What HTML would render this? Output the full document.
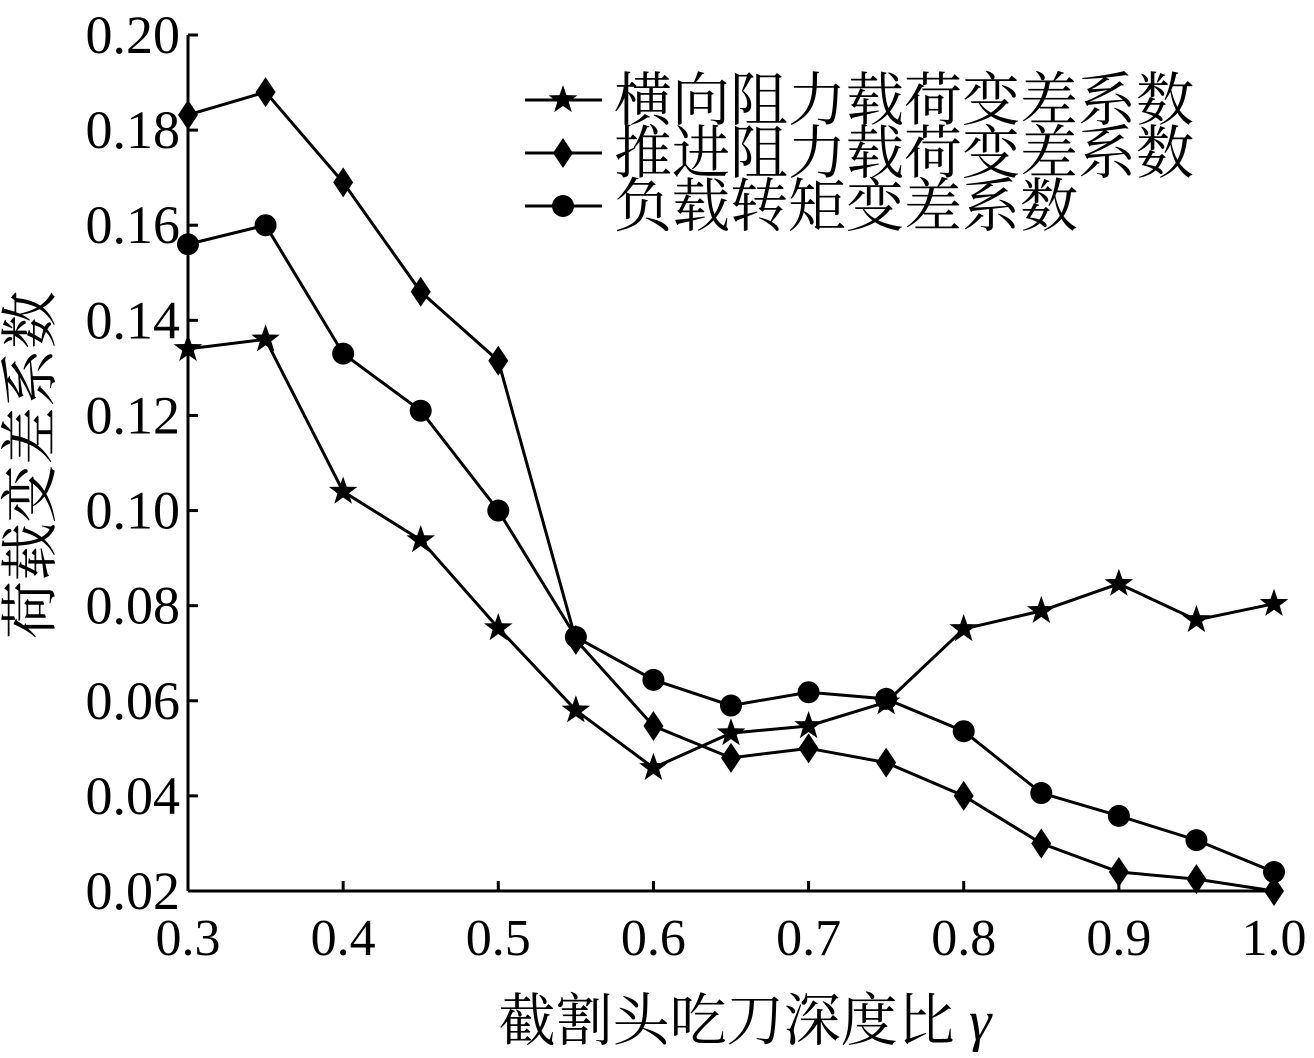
<!DOCTYPE html>
<html><head><meta charset="utf-8"><style>
body{margin:0;background:#fff;}
svg text{font-family:"Liberation Serif","Noto Serif CJK SC",serif;fill:#000;}
</style></head><body>
<svg id="chart" width="1314" height="1053" viewBox="0 0 1314 1053" xmlns="http://www.w3.org/2000/svg">
<g id="axes"></g>
<g id="series"></g>
<g id="legend"></g>
</svg>
<script>
const xValues=[0.3,0.35,0.4,0.45,0.5,0.55,0.6,0.65,0.7,0.75,0.8,0.85,0.9,0.95,1.0];
const starValues=[0.134,0.136,0.104,0.0938,0.0753,0.058,0.0459,0.0532,0.0547,0.0597,0.0751,0.0789,0.0846,0.077,0.0804];
const diamondValues=[0.1832,0.188,0.169,0.146,0.1315,0.0728,0.0547,0.048,0.050,0.047,0.040,0.030,0.024,0.0225,0.020];
const circleValues=[0.156,0.160,0.133,0.121,0.100,0.0734,0.0644,0.059,0.0618,0.0604,0.0536,0.0406,0.0358,0.0307,0.024];
const xTicks=[0.3,0.4,0.5,0.6,0.7,0.8,0.9,1.0];
const yTicks=[0.02,0.04,0.06,0.08,0.10,0.12,0.14,0.16,0.18,0.20];
const legendLabels=["横向阻力载荷变差系数","推进阻力载荷变差系数","负载转矩变差系数"];
const NS="http://www.w3.org/2000/svg";
const X0=188,X1=1274,Y0=891,Y1=35;
const xs=v=>X0+(v-0.3)/0.7*(X1-X0);
const ys=v=>Y0-(v-0.02)/0.18*(Y0-Y1);
function mk(tag,attrs,parent){const e=document.createElementNS(NS,tag);for(const k in attrs)e.setAttribute(k,attrs[k]);parent.appendChild(e);return e;}
const axes=document.getElementById('axes');
let e=mk('line',{x1:X0,y1:Y1,x2:X0,y2:Y0,stroke:'#000','stroke-width':3},axes);


e=mk('line',{x1:X0,y1:Y0,x2:X1+6,y2:Y0,stroke:'#000','stroke-width':3},axes);


yTicks.forEach(v=>{
 mk('line',{x1:X0,y1:ys(v),x2:X0+10,y2:ys(v),stroke:'#000','stroke-width':3},axes);
 const t=mk('text',{x:X0-8,y:ys(v)+18,'text-anchor':'end','font-size':54},axes);
 t.textContent=v.toFixed(2);
 
 
});
xTicks.forEach(v=>{
 mk('line',{x1:xs(v),y1:Y0,x2:xs(v),y2:Y0-10,stroke:'#000','stroke-width':3},axes);
 const t=mk('text',{x:xs(v),y:Y0+64,'text-anchor':'middle','font-size':52},axes);
 t.textContent=v.toFixed(1);
 
 
});
let t=mk('text',{x:745,y:1040,'text-anchor':'middle','font-size':57},axes);
t.innerHTML='截割头吃刀深度比 <tspan font-style="italic">γ</tspan>';


t=mk('text',{x:0,y:0,'text-anchor':'middle','font-size':58,transform:'translate(50,465) rotate(-90)'},axes);
t.textContent='荷载变差系数';


function marker(type,x,y,g){
 if(type==='star'){let p=[];for(let i=0;i<10;i++){const r=i%2?6:15,a=-Math.PI/2+i*Math.PI/5;p.push((x+r*Math.cos(a)).toFixed(1)+','+(y+r*Math.sin(a)).toFixed(1));}return mk('polygon',{points:p.join(' '),fill:'#000'},g);}
 if(type==='diamond')return mk('polygon',{points:`${x},${y-15} ${x+10},${y} ${x},${y+15} ${x-10},${y}`,fill:'#000'},g);
 return mk('circle',{cx:x,cy:y,r:11,fill:'#000'},g);
}
const series=document.getElementById('series');
[[starValues,'star','star-series'],[diamondValues,'diamond','diamond-series'],[circleValues,'circle','circle-series']].forEach(([vals,type,name])=>{
 const g=mk('g',{},series);
 
 
 mk('polyline',{points:vals.map((v,i)=>xs(xValues[i])+','+ys(v)).join(' '),fill:'none',stroke:'#000','stroke-width':3},g);
 vals.forEach((v,i)=>{const m=marker(type,xs(xValues[i]),ys(v),g);
  
  });
});
const legend=document.getElementById('legend');
['star','diamond','circle'].forEach((type,i)=>{
 const y=100+i*53;
 const g=mk('g',{},legend);
 
 
 mk('line',{x1:525,y1:y,x2:602,y2:y,stroke:'#000','stroke-width':3},g);
 marker(type,563,y,g);
 const tt=mk('text',{x:614,y:y+20,'font-size':58},g);
 tt.textContent=legendLabels[i];
});
</script>
</body></html>
